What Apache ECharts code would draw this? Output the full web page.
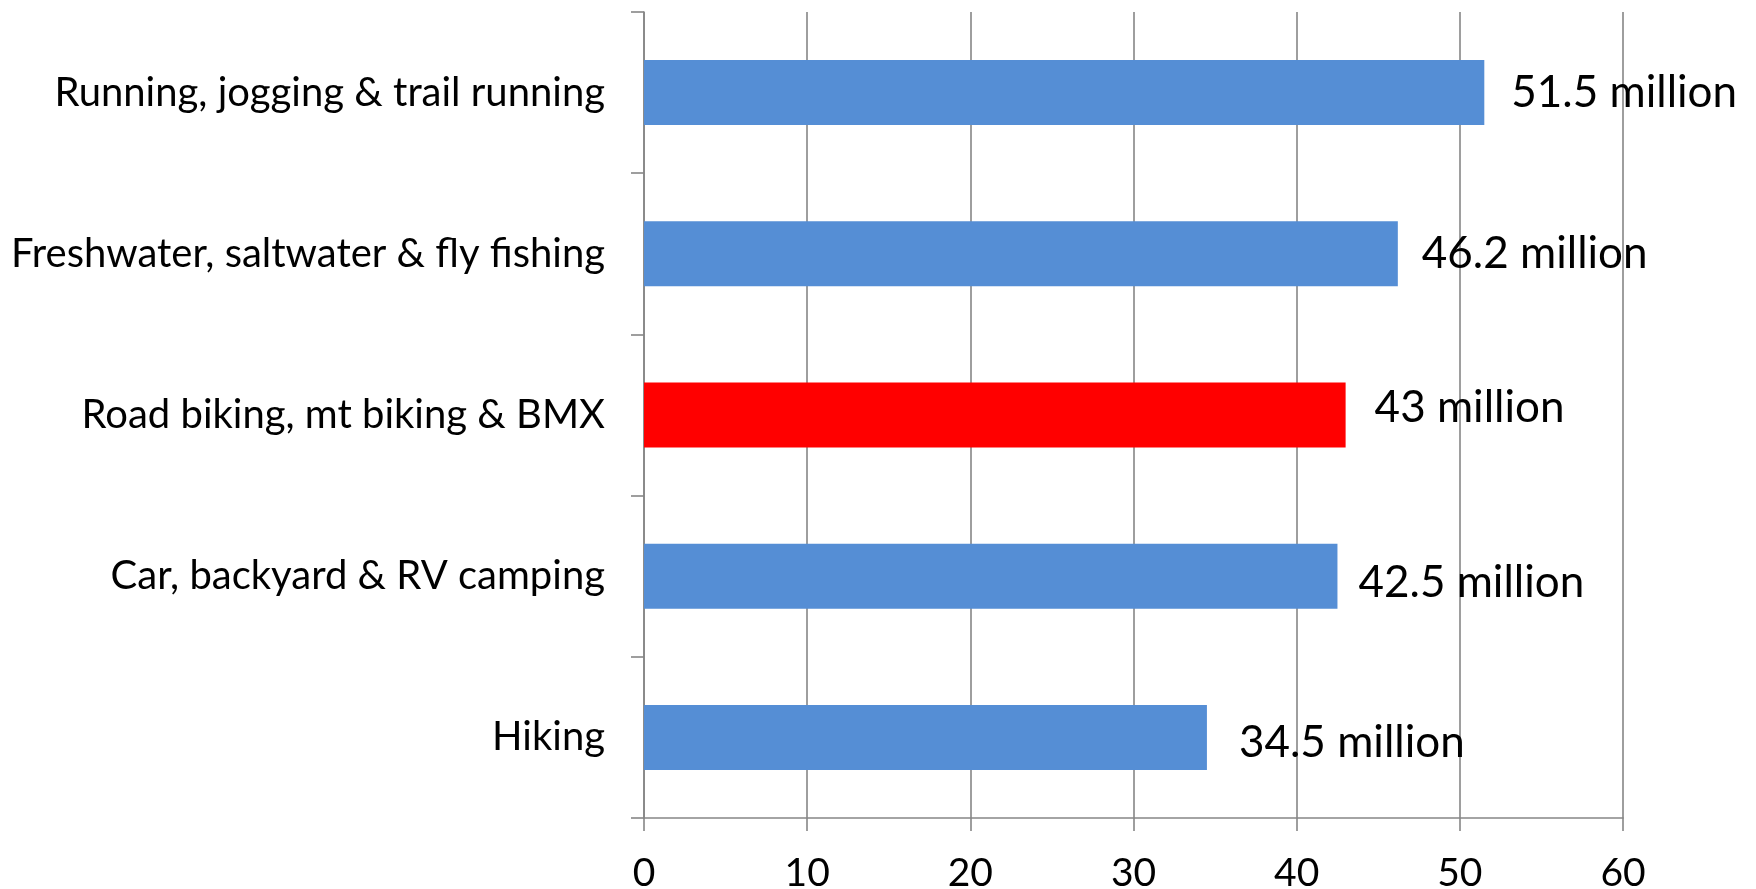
<!DOCTYPE html>
<html>
<head>
<meta charset="utf-8">
<script src="https://cdn.jsdelivr.net/npm/echarts@6/dist/echarts.min.js"></script>
<style>
  html, body { margin: 0; padding: 0; background: #fff; }
  #chart { width: 1756px; height: 889px; }
</style>
</head>
<body>
<div id="chart"></div>
<script>
// Participants by outdoor activity (millions)
const categories = [
  'Running, jogging & trail running',
  'Freshwater, saltwater & fly fishing',
  'Road biking, mt biking & BMX',
  'Car, backyard & RV camping',
  'Hiking'
];
const participants = [51.5, 46.2, 43, 42.5, 34.5];
const highlighted = 'Road biking, mt biking & BMX';
const xTicks = { min: 0, max: 60, interval: 10 };

// Hand-placed value label nudges [dx, dy], one per bar
const labelNudge = [[27, 0], [24, 0], [29, -7], [21, 7], [32, 5]];

const FONT = 'Lato, "Open Sans", sans-serif';
const GRAY = '#868686';

const seriesData = categories.map((name, i) => ({
  value: participants[i],
  itemStyle: { color: name === highlighted ? '#FF0000' : '#558ED5' },
  label: { offset: labelNudge[i] }
}));

const chart = echarts.init(document.getElementById('chart'), null, { renderer: 'canvas' });
chart.setOption({
  animation: false,
  backgroundColor: '#ffffff',
  grid: {
    left: 644, right: 133, top: 12, bottom: 71,
    containLabel: false,
    outerBoundsMode: 'none'
  },
  xAxis: {
    type: 'value',
    min: xTicks.min,
    max: xTicks.max,
    interval: xTicks.interval,
    axisLine: { show: true, lineStyle: { color: GRAY, width: 1.6 } },
    axisTick: { show: true, length: 13, lineStyle: { color: GRAY, width: 1.6 } },
    splitLine: { show: true, lineStyle: { color: GRAY, width: 1.6 } },
    axisLabel: { color: '#000', fontFamily: FONT, fontSize: 39, margin: 36 }
  },
  yAxis: {
    type: 'category',
    inverse: true,
    data: categories,
    axisLine: { show: true, lineStyle: { color: GRAY, width: 1.6 } },
    axisTick: { show: true, length: 13, lineStyle: { color: GRAY, width: 1.6 } },
    splitLine: { show: false },
    axisLabel: { color: '#000', fontFamily: FONT, fontSize: 40, margin: 39 }
  },
  series: [{
    type: 'bar',
    data: seriesData,
    barWidth: 65,
    label: {
      show: true,
      position: 'right',
      distance: 0,
      color: '#000',
      fontFamily: FONT,
      fontSize: 44,
      formatter: p => p.value + ' million'
    }
  }]
});
</script>
</body>
</html>
